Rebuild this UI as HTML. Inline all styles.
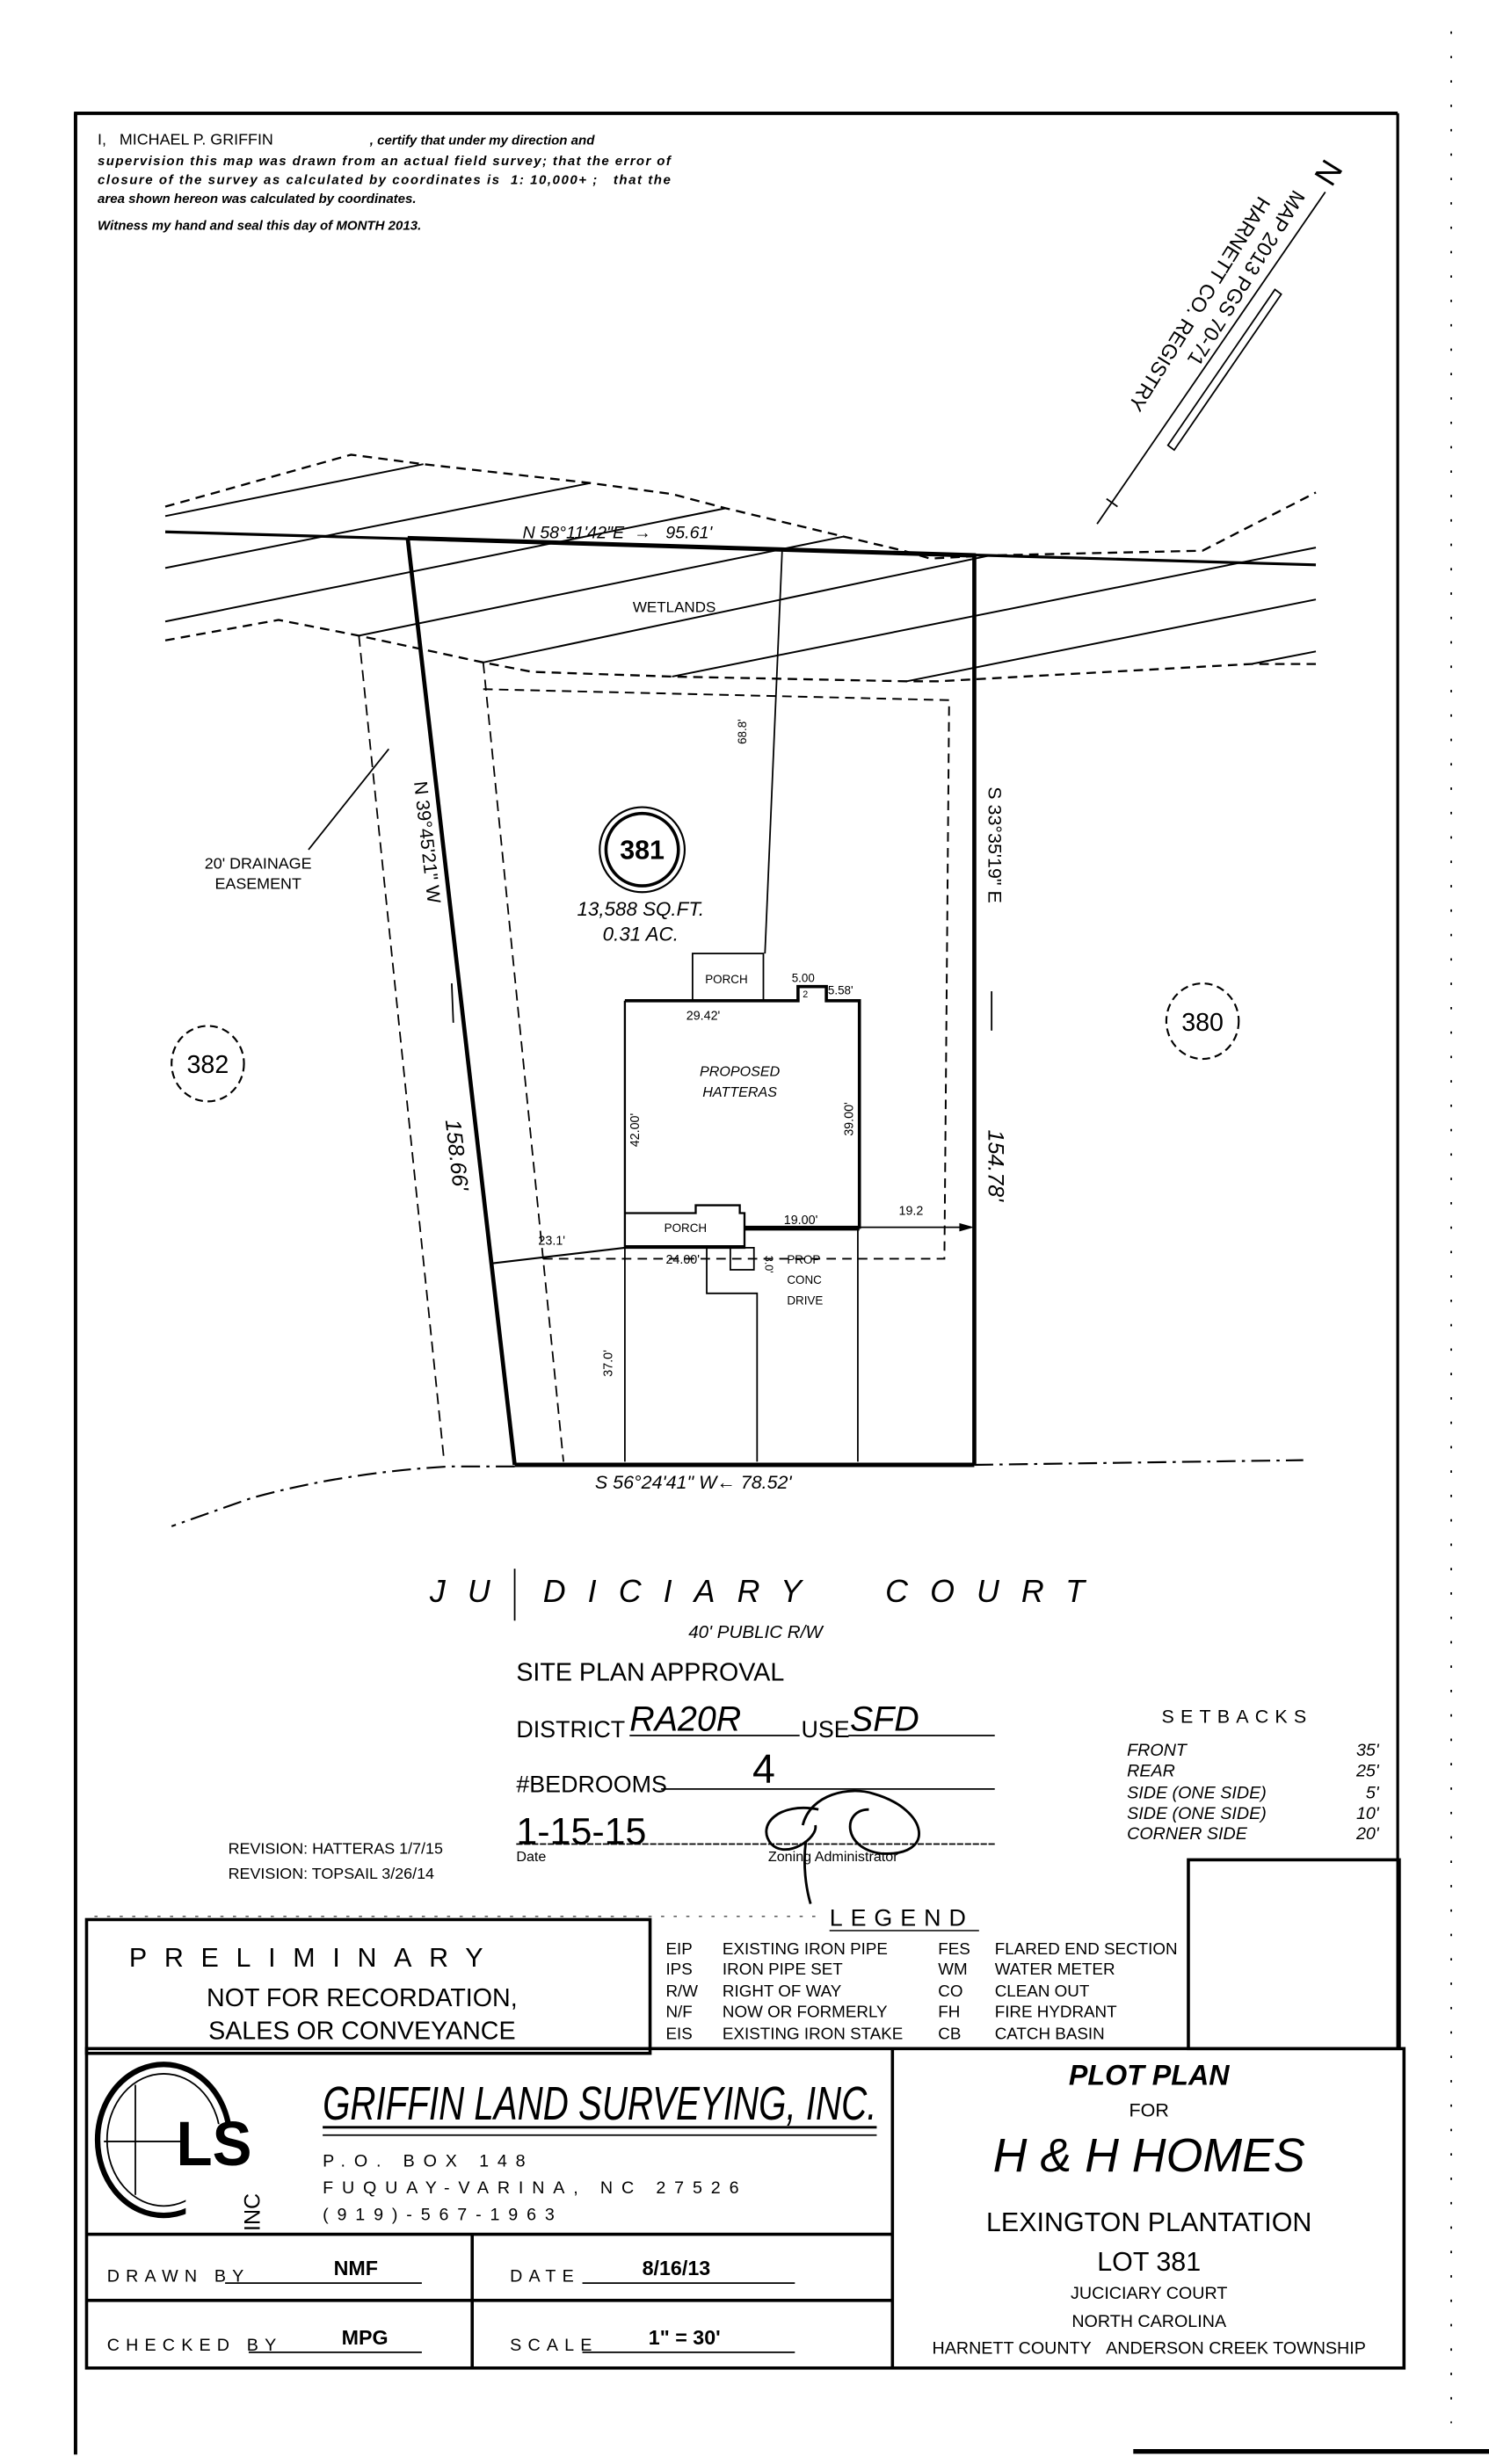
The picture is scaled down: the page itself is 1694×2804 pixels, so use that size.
<!DOCTYPE html>
<html><head><meta charset="utf-8"><style>
html,body{margin:0;padding:0;background:#fff}
svg{display:block}
text{font-family:"Liberation Sans",sans-serif;fill:#000}
.i{font-style:italic}
</style></head><body>
<svg width="1694" height="2804" viewBox="0 0 946 1566" preserveAspectRatio="none" xmlns="http://www.w3.org/2000/svg">
<rect width="946" height="1566" fill="#fff"/>
<!-- page frame -->
<g stroke="#000" fill="none">
<line x1="47" y1="72" x2="888" y2="72" stroke-width="2.2"/>
<line x1="48" y1="72" x2="48" y2="1560" stroke-width="2.2"/>
<line x1="888" y1="72" x2="888" y2="1302" stroke-width="1.8"/>
<line x1="720" y1="1558" x2="946" y2="1558" stroke-width="3"/>
<line x1="922" y1="20" x2="922" y2="1540" stroke-width="1" stroke-dasharray="1.5 14"/>
</g>

<!-- certification -->
<g class="i" font-size="8.4" font-weight="bold">
<text x="62" y="92" font-style="normal" font-weight="normal" font-size="10">I,&#160;&#160;&#160;MICHAEL P. GRIFFIN</text>
<text x="235" y="92" class="i">, certify that under my direction and</text>
<text x="62" y="105" class="i" textLength="364">supervision this map was drawn from an actual field survey; that the error of</text>
<text x="62" y="117" class="i" textLength="364">closure of the survey as calculated by coordinates is&#160;&#160;1: 10,000+ ;&#160;&#160;&#160;that the</text>
<text x="62" y="129" class="i">area shown hereon was calculated by coordinates.</text>
<text x="62" y="146" class="i">Witness my hand and seal this day of MONTH 2013.</text>
</g>

<!-- north arrow -->
<g stroke="#000" fill="none">
<line x1="697" y1="333" x2="842" y2="122" stroke-width="1"/>
<line x1="703" y1="317" x2="710" y2="322" stroke-width="1"/>
<polygon points="742,283 810,184 814,187 746,286" stroke-width="1"/>
</g>
<text x="0" y="0" font-size="20" transform="translate(842,100) rotate(122)">N</text>
<text x="0" y="0" font-size="13" transform="translate(822,120) rotate(122)">MAP 2013 PGS 70-71</text>
<text x="0" y="0" font-size="13" transform="translate(800,124) rotate(122)">HARNETT CO. REGISTRY</text>

<!-- wetlands -->
<g stroke="#000" fill="none" stroke-width="1.1">
<polyline points="105,322 223,289 269,295 375,307 427,314 461,323 536,341 574,350 591,355 629,353 764,350 836,313" stroke-dasharray="6 4" stroke-width="1.3"/>
<polyline points="105,407 177,394 228,404 307,421 338,427 427,430 576,433 596,433 795,422 836,422" stroke-dasharray="6 4" stroke-width="1.3"/>
<line x1="105" y1="328" x2="269" y2="295"/>
<line x1="105" y1="361" x2="375" y2="307"/>
<line x1="105" y1="395" x2="461" y2="323"/>
<line x1="228" y1="404" x2="536" y2="341"/>
<line x1="307" y1="421" x2="629" y2="353"/>
<line x1="427" y1="430" x2="836" y2="348"/>
<line x1="576" y1="433" x2="836" y2="381"/>
<line x1="795" y1="422" x2="836" y2="414"/>
<line x1="105" y1="338" x2="836" y2="359" stroke-width="1.8"/>
<line x1="259" y1="342" x2="620" y2="353" stroke-width="2.8"/>
</g>
<text x="402" y="389" font-size="9.5">WETLANDS</text>
<text x="332" y="342" font-size="11" class="i">N 58°11'42"E&#160;&#160;&#x2192;&#160;&#160;&#160;95.61'</text>

<!-- lot lines -->
<g stroke="#000" fill="none">
<line x1="259" y1="342" x2="327" y2="931" stroke-width="2.6"/>
<line x1="619" y1="353" x2="619" y2="931" stroke-width="2.6"/>
<line x1="327" y1="931" x2="619" y2="931" stroke-width="2.8"/>
<polyline points="619,931 828,928" stroke-width="1.2" stroke-dasharray="12 4 2 4"/>
<path d="M327,932 L285,932 Q218,936 160,952 L109,970" stroke-width="1.2" stroke-dasharray="12 4 2 4"/>
<line x1="228" y1="404" x2="282" y2="927" stroke-width="1" stroke-dasharray="7 4"/>
<line x1="307" y1="421" x2="358" y2="929" stroke-width="1" stroke-dasharray="7 4"/>
<polyline points="307,438 603,445 600,800 343,800" stroke-width="1.1" stroke-dasharray="6 4"/>
<line x1="497" y1="348" x2="486" y2="606" stroke-width="1"/>
<rect x="440" y="606" width="45" height="30" stroke-width="1"/>
<polyline points="397,636 507,636 507,627 525,627 525,636 546,636 546,780 473,780" stroke-width="2"/>
<polyline points="397,636 397,793 473,793 473,771 470,771 470,766 442,766 442,771 397,771" stroke-width="1.3"/>
<line x1="397" y1="792.5" x2="473" y2="792.5" stroke-width="2.2"/>
<line x1="473" y1="781" x2="546" y2="781" stroke-width="2.2"/>
<rect x="464" y="793" width="15" height="14" stroke-width="1"/>
<polyline points="449,793 449,822 481,822 481,929" stroke-width="1"/>
<line x1="397" y1="793" x2="397" y2="929" stroke-width="1"/>
<line x1="545" y1="781" x2="545" y2="929" stroke-width="1"/>
<line x1="546" y1="780" x2="617" y2="780" stroke-width="1"/>
<polygon points="617,780 610,778 610,782" fill="#000"/>
<line x1="312" y1="803" x2="397" y2="793" stroke-width="1.2"/>
<line x1="287" y1="625" x2="288" y2="650" stroke-width="1"/>
<line x1="630" y1="630" x2="630" y2="655" stroke-width="1"/>
<line x1="196" y1="540" x2="247" y2="476" stroke-width="1"/>
<circle cx="408" cy="540" r="27" stroke-width="1.2"/>
<circle cx="408" cy="540" r="23" stroke-width="2"/>
<ellipse cx="132" cy="676" rx="23" ry="24" stroke-width="1.2" stroke-dasharray="5 3"/>
<ellipse cx="764" cy="649" rx="23" ry="24" stroke-width="1.2" stroke-dasharray="5 3"/>
</g>
<text x="408" y="546" font-size="17" font-weight="bold" text-anchor="middle">381</text>
<text x="132" y="682" font-size="16" text-anchor="middle">382</text>
<text x="764" y="655" font-size="16" text-anchor="middle">380</text>
<text x="407" y="582" font-size="12.5" class="i" text-anchor="middle">13,588 SQ.FT.</text>
<text x="407" y="598" font-size="12.5" class="i" text-anchor="middle">0.31 AC.</text>
<text x="164" y="552" font-size="10" text-anchor="middle">20' DRAINAGE</text>
<text x="164" y="565" font-size="10" text-anchor="middle">EASEMENT</text>
<text x="0" y="0" font-size="7.5" transform="translate(474,473) rotate(-90)">68.8'</text>
<text x="448" y="625" font-size="7.5">PORCH</text>
<text x="503" y="624" font-size="7.5">5.00</text>
<text x="510" y="634" font-size="6">2</text>
<text x="526" y="632" font-size="7.5">5.58'</text>
<text x="436" y="648" font-size="8">29.42'</text>
<text x="470" y="684" font-size="9" class="i" text-anchor="middle">PROPOSED</text>
<text x="470" y="697" font-size="9" class="i" text-anchor="middle">HATTERAS</text>
<text x="0" y="0" font-size="8" transform="translate(406,729) rotate(-90)">42.00'</text>
<text x="0" y="0" font-size="8" transform="translate(542,722) rotate(-90)">39.00'</text>
<text x="422" y="783" font-size="7.5">PORCH</text>
<text x="498" y="778" font-size="8">19.00'</text>
<text x="571" y="772" font-size="8">19.2</text>
<text x="342" y="791" font-size="8">23.1'</text>
<text x="423" y="803" font-size="8">24.00'</text>
<text x="0" y="0" font-size="7" transform="translate(486,798) rotate(90)">3.0'</text>
<text x="500" y="803" font-size="7.5">PROP</text>
<text x="500" y="816" font-size="7.5">CONC</text>
<text x="500" y="829" font-size="7.5">DRIVE</text>
<text x="0" y="0" font-size="8" transform="translate(389,875) rotate(-90)">37.0'</text>
<text x="0" y="0" font-size="12" transform="translate(263,497) rotate(83.5)">N 39°45'21" W</text>
<text x="0" y="0" font-size="14" class="i" transform="translate(283,712) rotate(83.5)">158.66'</text>
<text x="0" y="0" font-size="12" transform="translate(628,500) rotate(90)">S 33°35'19" E</text>
<text x="0" y="0" font-size="14" class="i" transform="translate(628,718) rotate(90)">154.78'</text>
<text x="378" y="946" font-size="12" class="i">S 56°24'41" W&#x2190;&#160;78.52'</text>

<text x="273" y="1018" font-size="20" class="i" letter-spacing="14">JU DICIARY&#160;&#160;COURT</text>
<line x1="327" y1="997" x2="327" y2="1030" stroke="#000" stroke-width="1"/>
<text x="480" y="1041" font-size="11.5" class="i" text-anchor="middle">40' PUBLIC R/W</text>

<text x="328" y="1068" font-size="16">SITE PLAN APPROVAL</text>
<text x="328" y="1104" font-size="15">DISTRICT</text>
<text x="400" y="1100" font-size="22" font-family="Liberation Serif" class="i">RA20R</text>
<line x1="400" y1="1103" x2="508" y2="1103" stroke="#000"/>
<text x="509" y="1104" font-size="15">USE</text>
<text x="540" y="1100" font-size="22" font-family="Liberation Serif" class="i">SFD</text>
<line x1="539" y1="1103" x2="632" y2="1103" stroke="#000"/>
<text x="328" y="1139" font-size="15">#BEDROOMS</text>
<line x1="420" y1="1137" x2="632" y2="1137" stroke="#000"/>
<text x="478" y="1133" font-size="26" font-family="Liberation Serif">4</text>
<text x="328" y="1172" font-size="24" font-family="Liberation Serif">1-15-15</text>
<line x1="328" y1="1172" x2="632" y2="1172" stroke="#000" stroke-dasharray="4 1"/>
<path d="M520,1150 C495,1145 480,1160 490,1172 C500,1182 520,1168 518,1160 M510,1160 C515,1140 540,1135 555,1140 C590,1150 595,1180 560,1178 C535,1175 535,1150 552,1150 M512,1170 C510,1185 512,1200 515,1210" stroke="#000" fill="none" stroke-width="1.6"/>
<text x="328" y="1183" font-size="9">Date</text>
<text x="488" y="1183" font-size="9">Zoning Administrator</text>

<text x="738" y="1095" font-size="12" letter-spacing="4">SETBACKS</text>
<g font-size="11" class="i">
<text x="716" y="1116">FRONT</text><text x="876" y="1116" text-anchor="end">35'</text>
<text x="716" y="1129">REAR</text><text x="876" y="1129" text-anchor="end">25'</text>
<text x="716" y="1143">SIDE (ONE SIDE)</text><text x="876" y="1143" text-anchor="end">5'</text>
<text x="716" y="1156">SIDE (ONE SIDE)</text><text x="876" y="1156" text-anchor="end">10'</text>
<text x="716" y="1169">CORNER SIDE</text><text x="876" y="1169" text-anchor="end">20'</text>
</g>
<text x="145" y="1178" font-size="10">REVISION: HATTERAS 1/7/15</text>
<text x="145" y="1194" font-size="10">REVISION: TOPSAIL 3/26/14</text>

<g stroke="#000" fill="none" stroke-width="2">
<rect x="755" y="1182" width="134" height="120"/>
<rect x="55" y="1220" width="358" height="85"/>
<rect x="55" y="1302" width="837" height="203"/>
<line x1="567" y1="1302" x2="567" y2="1505"/>
<line x1="55" y1="1420" x2="567" y2="1420"/>
<line x1="55" y1="1462" x2="567" y2="1462"/>
<line x1="300" y1="1420" x2="300" y2="1505"/>
</g>
<line x1="60" y1="1218" x2="520" y2="1218" stroke="#000" stroke-width="0.6" stroke-dasharray="2 6"/>
<text x="82" y="1250" font-size="17" letter-spacing="11">PRELIMINARY</text>
<text x="230" y="1275" font-size="16" text-anchor="middle">NOT FOR RECORDATION,</text>
<text x="230" y="1296" font-size="16" text-anchor="middle">SALES OR CONVEYANCE</text>
<text x="527" y="1224" font-size="15" letter-spacing="5">LEGEND</text>
<line x1="527" y1="1227" x2="622" y2="1227" stroke="#000" stroke-width="0.8"/>
<g font-size="10.5">
<text x="423" y="1242">EIP</text><text x="459" y="1242">EXISTING IRON PIPE</text><text x="596" y="1242">FES</text><text x="632" y="1242">FLARED END SECTION</text>
<text x="423" y="1255">IPS</text><text x="459" y="1255">IRON PIPE SET</text><text x="596" y="1255">WM</text><text x="632" y="1255">WATER METER</text>
<text x="423" y="1269">R/W</text><text x="459" y="1269">RIGHT OF WAY</text><text x="596" y="1269">CO</text><text x="632" y="1269">CLEAN OUT</text>
<text x="423" y="1282">N/F</text><text x="459" y="1282">NOW OR FORMERLY</text><text x="596" y="1282">FH</text><text x="632" y="1282">FIRE HYDRANT</text>
<text x="423" y="1296">EIS</text><text x="459" y="1296">EXISTING IRON STAKE</text><text x="596" y="1296">CB</text><text x="632" y="1296">CATCH BASIN</text>
</g>

<g stroke="#000" fill="none">
<ellipse cx="104" cy="1360" rx="42" ry="48" stroke-width="3.5"/>
<ellipse cx="104" cy="1360" rx="36" ry="42" stroke-width="1"/>
<line x1="86" y1="1325" x2="86" y2="1395" stroke-width="1"/>
<line x1="66" y1="1361" x2="140" y2="1361" stroke-width="1"/>
</g>
<rect x="118" y="1350" width="34" height="58" fill="#fff"/>
<text x="112" y="1376" font-size="40" font-weight="bold" font-family="Liberation Serif" textLength="48" lengthAdjust="spacingAndGlyphs">LS</text>
<text x="0" y="0" font-size="14" font-family="Liberation Serif" transform="translate(165,1418) rotate(-90)">INC</text>
<text x="205" y="1347" font-size="30" class="i" textLength="352" lengthAdjust="spacingAndGlyphs">GRIFFIN LAND SURVEYING, INC.</text>
<line x1="205" y1="1352" x2="557" y2="1352" stroke="#000" stroke-width="1.6"/>
<line x1="205" y1="1357" x2="557" y2="1357" stroke="#000" stroke-width="1"/>
<g font-size="11" letter-spacing="5.5">
<text x="205" y="1377">P.O. BOX 148</text>
<text x="205" y="1394">FUQUAY-VARINA, NC 27526</text>
<text x="205" y="1411">(919)-567-1963</text>
</g>
<text x="68" y="1450" font-size="11" letter-spacing="4">DRAWN BY</text>
<text x="212" y="1446" font-size="13" font-weight="bold">NMF</text>
<line x1="143" y1="1451" x2="268" y2="1451" stroke="#000"/>
<text x="324" y="1450" font-size="11" letter-spacing="4">DATE</text>
<text x="408" y="1446" font-size="13" font-weight="bold">8/16/13</text>
<line x1="370" y1="1451" x2="505" y2="1451" stroke="#000"/>
<text x="68" y="1494" font-size="11" letter-spacing="4">CHECKED BY</text>
<text x="217" y="1490" font-size="13" font-weight="bold">MPG</text>
<line x1="158" y1="1495" x2="268" y2="1495" stroke="#000"/>
<text x="324" y="1494" font-size="11" letter-spacing="4">SCALE</text>
<text x="412" y="1490" font-size="13" font-weight="bold">1" = 30'</text>
<line x1="370" y1="1495" x2="505" y2="1495" stroke="#000"/>

<text x="730" y="1325" font-size="18" class="i" font-weight="bold" text-anchor="middle">PLOT PLAN</text>
<text x="730" y="1345" font-size="12" text-anchor="middle">FOR</text>
<text x="730" y="1380" font-size="30" class="i" text-anchor="middle">H &amp; H HOMES</text>
<text x="730" y="1418" font-size="17" text-anchor="middle">LEXINGTON PLANTATION</text>
<text x="730" y="1443" font-size="17" text-anchor="middle">LOT 381</text>
<text x="730" y="1461" font-size="11" text-anchor="middle">JUCICIARY COURT</text>
<text x="730" y="1479" font-size="11" text-anchor="middle">NORTH CAROLINA</text>
<text x="730" y="1496" font-size="11" text-anchor="middle">HARNETT COUNTY&#160;&#160;&#160;ANDERSON CREEK TOWNSHIP</text>
</svg>
</body></html>
